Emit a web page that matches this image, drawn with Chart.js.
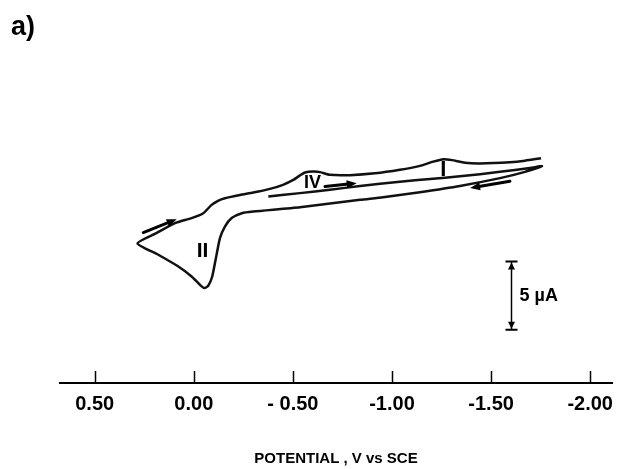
<!DOCTYPE html>
<html>
<head>
<meta charset="utf-8">
<script src="https://cdn.jsdelivr.net/npm/chart.js@4.4.0/dist/chart.umd.min.js"></script>
<style>
  html, body { margin: 0; padding: 0; background: #fff; }
  canvas { display: block; }
</style>
</head>
<body>
<canvas id="cv" width="617" height="469"></canvas>
<script>
// potential axis, V vs SCE
const tickValues = [0.5, 0, -0.5, -1.0, -1.5, -2.0];
const tickLabels = ['0.50', '0.00', '- 0.50', '-1.00', '-1.50', '-2.00'];

// cyclic voltammogram in scan order: potential (V) and current (uA, cathodic up)
const potential = [
  -0.376, -0.536, -0.687, -0.839, -1.040, -1.192, -1.343, -1.545, -1.696, -1.757,
  -1.671, -1.545, -1.343, -1.141, -0.955, -0.839, -0.536, -0.300, -0.242, -0.191,
  -0.157, -0.132, -0.110, -0.093, -0.073, -0.053, -0.031, 0.011, 0.078, 0.179,
  0.284,
  0.191, 0.095, 0.011, -0.048, -0.090, -0.122, -0.157, -0.233, -0.300, -0.384,
  -0.450, -0.502, -0.536, -0.561, -0.603, -0.637, -0.687, -0.788, -0.914, -1.040,
  -1.141, -1.208, -1.259, -1.303, -1.368, -1.444, -1.595, -1.671, -1.752
];
const current = [
  13.67, 13.92, 14.16, 14.45, 14.76, 14.95, 15.15, 15.48, 15.76, 15.90,
  15.48, 15.02, 14.45, 13.99, 13.61, 13.43, 12.88, 12.57, 12.45, 12.09,
  11.47, 10.62, 9.03, 7.81, 7.13, 6.96, 7.20, 7.81, 8.54, 9.40,
  10.24,
  10.97, 11.72, 12.09, 12.45, 13.06, 13.36, 13.55, 13.79, 13.96, 14.23,
  14.53, 14.89, 15.22, 15.43, 15.50, 15.46, 15.26, 15.24, 15.37, 15.63,
  15.92, 16.23, 16.41, 16.34, 16.15, 16.10, 16.19, 16.30, 16.48
];

// peak labels and scan-direction arrows, placed in data units
const peakLabels = [
  { text: 'IV', e: -0.599, i: 14.64, size: 18 },
  { text: 'I', e: -1.259, i: 15.63, size: 22 },
  { text: 'II', e: -0.044, i: 9.69, size: 21 }
];
const scanArrows = [
  { from: [0.255, 11.03], to: [0.086, 12.01] },
  { from: [-0.662, 14.40], to: [-0.822, 14.65] },
  { from: [-1.595, 14.79], to: [-1.394, 14.29] }
];
const scaleBar = { e: -1.60, i0: 3.9, size: 5, label: '5 \u00b5A' };

const FONT = '"Liberation Sans", Arial, sans-serif';

function arrowHead(ctx, x, y, ang, len, half) {
  ctx.beginPath();
  ctx.moveTo(x, y);
  ctx.lineTo(x - len * Math.cos(ang) + half * Math.sin(ang), y - len * Math.sin(ang) - half * Math.cos(ang));
  ctx.lineTo(x - len * Math.cos(ang) - half * Math.sin(ang), y - len * Math.sin(ang) + half * Math.cos(ang));
  ctx.closePath();
  ctx.fill();
}

const extras = {
  id: 'extras',
  afterDraw(chart) {
    const { ctx, chartArea, scales: { x, y } } = chart;
    ctx.save();
    ctx.strokeStyle = '#000';
    ctx.fillStyle = '#000';

    // tick marks pointing up from the axis
    ctx.lineWidth = 1.5;
    tickValues.forEach(v => {
      const px = Math.round(x.getPixelForValue(v)) + 0.5;
      ctx.beginPath();
      ctx.moveTo(px, chartArea.bottom);
      ctx.lineTo(px, chartArea.bottom - 12);
      ctx.stroke();
    });

    // peak labels
    ctx.textAlign = 'center';
    ctx.textBaseline = 'middle';
    peakLabels.forEach(p => {
      ctx.font = 'bold ' + p.size + 'px ' + FONT;
      ctx.fillText(p.text, x.getPixelForValue(p.e), y.getPixelForValue(p.i));
    });

    // scan direction arrows
    ctx.lineWidth = 3;
    ctx.lineCap = 'round';
    scanArrows.forEach(a => {
      const x0 = x.getPixelForValue(a.from[0]), y0 = y.getPixelForValue(a.from[1]);
      const x1 = x.getPixelForValue(a.to[0]), y1 = y.getPixelForValue(a.to[1]);
      const ang = Math.atan2(y1 - y0, x1 - x0);
      ctx.beginPath();
      ctx.moveTo(x0, y0);
      ctx.lineTo(x1 - 6 * Math.cos(ang), y1 - 6 * Math.sin(ang));
      ctx.stroke();
      arrowHead(ctx, x1, y1, ang, 10, 4);
    });

    // 5 uA scale bar
    const bx = Math.round(x.getPixelForValue(scaleBar.e)) + 0.5;
    const by0 = y.getPixelForValue(scaleBar.i0);
    const by1 = y.getPixelForValue(scaleBar.i0 + scaleBar.size);
    ctx.lineCap = 'butt';
    ctx.lineWidth = 1.5;
    ctx.beginPath();
    ctx.moveTo(bx, by0);
    ctx.lineTo(bx, by1);
    ctx.stroke();
    ctx.lineWidth = 2;
    ctx.beginPath();
    ctx.moveTo(bx - 6, by0); ctx.lineTo(bx + 6, by0);
    ctx.moveTo(bx - 6, by1); ctx.lineTo(bx + 6, by1);
    ctx.stroke();
    arrowHead(ctx, bx, by1 + 1, -Math.PI / 2, 7, 3.5);
    arrowHead(ctx, bx, by0 - 1, Math.PI / 2, 7, 3.5);
    ctx.textAlign = 'left';
    ctx.font = 'bold 18px ' + FONT;
    ctx.fillText(scaleBar.label, bx + 8, (by0 + by1) / 2);

    // panel letter
    ctx.textBaseline = 'alphabetic';
    ctx.font = 'bold 27px ' + FONT;
    ctx.fillText('a)', 11, 35);
    ctx.restore();
  }
};

new Chart(document.getElementById('cv'), {
  type: 'scatter',
  data: {
    datasets: [{
      data: potential.map((e, k) => ({ x: e, y: current[k] })),
      showLine: true,
      borderColor: '#111',
      borderWidth: 2.5,
      pointRadius: 0,
      tension: 0.2,
      fill: false
    }]
  },
  options: {
    responsive: false,
    animation: false,
    devicePixelRatio: 1,
    layout: { padding: { left: 60, right: 5, top: 42, bottom: 0 } },
    plugins: { legend: { display: false }, tooltip: { enabled: false } },
    scales: {
      x: {
        type: 'linear',
        reverse: true,
        min: -2.11,
        max: 0.675,
        afterBuildTicks: s => { s.ticks = tickValues.map(v => ({ value: v })); },
        afterFit: s => { s.paddingLeft = 0; s.paddingRight = 0; },
        grid: { display: false, drawTicks: false },
        border: { display: true, color: '#000', width: 2 },
        ticks: {
          color: '#000',
          padding: 9,
          maxRotation: 0,
          autoSkip: false,
          font: { family: FONT, size: 20, weight: 'bold' },
          callback: (v, idx) => tickLabels[idx]
        },
        title: {
          display: true,
          text: 'POTENTIAL , V vs SCE',
          color: '#000',
          font: { family: FONT, size: 15, weight: 'bold' },
          padding: { top: 25, bottom: 1 }
        }
      },
      y: {
        display: false,
        min: 0,
        max: 25
      }
    }
  },
  plugins: [extras]
});
</script>
</body>
</html>
